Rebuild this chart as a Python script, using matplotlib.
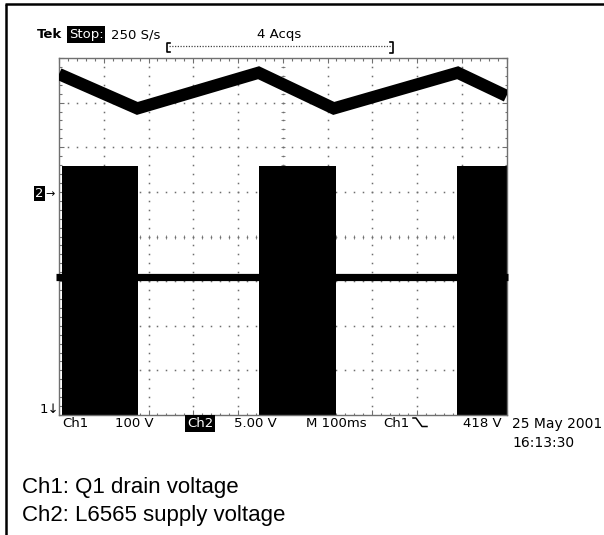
import numpy as np
import matplotlib
matplotlib.use('Agg')
import matplotlib.pyplot as plt
from matplotlib.lines import Line2D

W, H = 604, 535

# Ch1 (drain voltage) - sawtooth, corner points in divisions
ch1_t = [0.0, 1.75, 4.46, 6.14, 8.91, 10.0]
ch1_v = [7.64, 6.87, 7.67, 6.87, 7.67, 7.15]

# Ch2 (supply voltage) - bursts drawn as solid blocks, plus the flat level between them
ch2_burst_start = [0.07, 4.47, 8.89]
ch2_burst_end = [1.77, 6.20, 10.05]
ch2_burst_top = 5.58
ch2_level = 3.09

header_left = ["Tek", "Stop:", "250 S/s"]
header_acqs = "4 Acqs"
footer_items = ["Ch1", "100 V", "Ch2", "5.00 V", "M 100ms", "Ch1", "418 V"]
date_lines = ["25 May 2001", "16:13:30"]
captions = ["Ch1: Q1 drain voltage", "Ch2: L6565 supply voltage"]

scope_font = dict(family='DejaVu Sans', size=9.5, color='black')
inv_box = dict(boxstyle='square,pad=0.12', fc='black', ec='none')

fig = plt.figure(figsize=(W / 100, H / 100), dpi=100)


def px(x, y):
    # pixel position (from top-left) -> figure fraction
    return x / W, 1 - y / H


def ftext(x, y, s, **kw):
    fx, fy = px(x, y)
    return fig.text(fx, fy, s, va='baseline', ha='left', **kw)


def fline(xs, ys, **kw):
    pts = [px(x, y) for x, y in zip(xs, ys)]
    fig.add_artist(Line2D([p[0] for p in pts], [p[1] for p in pts],
                          transform=fig.transFigure, **kw))


# graticule
ax = fig.add_axes([59 / W, 1 - 415 / H, 447.5 / W, 357 / H])
ax.set_xlim(0, 10)
ax.set_ylim(0, 8)
for sp in ax.spines.values():
    sp.set_color('#707070')
    sp.set_linewidth(1.0)
ax.set_xticks(np.arange(0, 11, 1))
ax.set_yticks(np.arange(0, 9, 1))
ax.set_xticks(np.arange(0, 10.01, 0.2), minor=True)
ax.set_yticks(np.arange(0, 8.01, 0.2), minor=True)
ax.tick_params(which='both', direction='in', top=True, right=True,
               labelbottom=False, labelleft=False, color='#707070')
ax.tick_params(which='major', length=3.5, width=0.8)
ax.tick_params(which='minor', length=1.8, width=0.8)

# dotted graticule lines, kept under the traces
grid_kw = dict(linestyle='none', marker='s', ms=1.1, color='#6e6e6e', mec='none', zorder=0.5)
fine = np.arange(0.2, 10, 0.2)
for gx in range(1, 10):
    ys = fine[fine < 8]
    if gx == 5:
        ax.plot(np.full_like(ys, gx), ys, linestyle='none', marker='_', ms=2.4,
                mew=0.7, color='#8a8a8a', zorder=0.5)
    ax.plot(np.full_like(ys, gx), ys, **grid_kw)
for gy in range(1, 8):
    if gy == 4:
        ax.plot(fine, np.full_like(fine, gy), linestyle='none', marker='|', ms=2.4,
                mew=0.7, color='#8a8a8a', zorder=0.5)
    ax.plot(fine, np.full_like(fine, gy), **grid_kw)

# Ch2 bursts and level
widths = [e - s for s, e in zip(ch2_burst_start, ch2_burst_end)]
ax.bar(ch2_burst_start, ch2_burst_top + 0.1, width=widths, bottom=-0.1,
       align='edge', color='black', linewidth=0, zorder=2)
ax.plot([-0.06, 10.04], [ch2_level, ch2_level], color='black', lw=5.2,
        solid_capstyle='butt', clip_on=False, zorder=3)

# Ch1 sawtooth
ax.plot(ch1_t, ch1_v, color='black', lw=8.8, solid_joinstyle='miter',
        solid_capstyle='butt', zorder=3)

# header
ftext(37, 38, header_left[0], fontweight='bold', **scope_font)
ftext(69, 38, header_left[1], bbox=inv_box, **{**scope_font, 'color': 'white'})
ftext(111, 38, header_left[2], **scope_font)
ftext(257, 38, header_acqs, **scope_font)
fline([170, 167, 167, 170], [42.5, 42.5, 51.5, 51.5], color='black', lw=1.2)
fline([390, 393, 393, 390], [42, 42, 52.5, 52.5], color='black', lw=1.2)
fline([169, 391], [46, 46], color='#444444', lw=0.9, linestyle=(0, (1, 1.2)))

# channel reference markers
ftext(35, 197, "2", bbox=dict(boxstyle='square,pad=0.1', fc='black', ec='none'),
      **{**scope_font, 'color': 'white'})
ftext(45, 197, "\u2192", **{**scope_font, 'size': 8})
ftext(40, 413, "1\u2193", **scope_font)

# footer readout
footer_x = [62, 115, 187, 234, 306, 383, 463]
for i, (fx, s) in enumerate(zip(footer_x, footer_items)):
    if i == 2:
        ftext(fx, 427, s, bbox=inv_box, **{**scope_font, 'color': 'white'})
    else:
        ftext(fx, 427, s, **scope_font)
fline([413, 416, 422, 427], [418, 418, 426.5, 426.5], color='black', lw=1.1)

ftext(512, 428, date_lines[0], **{**scope_font, 'size': 10})
ftext(512, 447, date_lines[1], **{**scope_font, 'size': 10})

# captions
ftext(22, 493, captions[0], family='Liberation Sans', size=16, color='black')
ftext(22, 521.5, captions[1], family='Liberation Sans', size=16, color='black')

# outer frame (left and top edges)
fline([5.5, 5.5], [3.5, 535], color='black', lw=1.8, solid_capstyle='butt')
fline([4.5, 604], [3.5, 3.5], color='black', lw=1.8, solid_capstyle='butt')

fig.savefig("out.png", dpi=100)
plt.close(fig)
